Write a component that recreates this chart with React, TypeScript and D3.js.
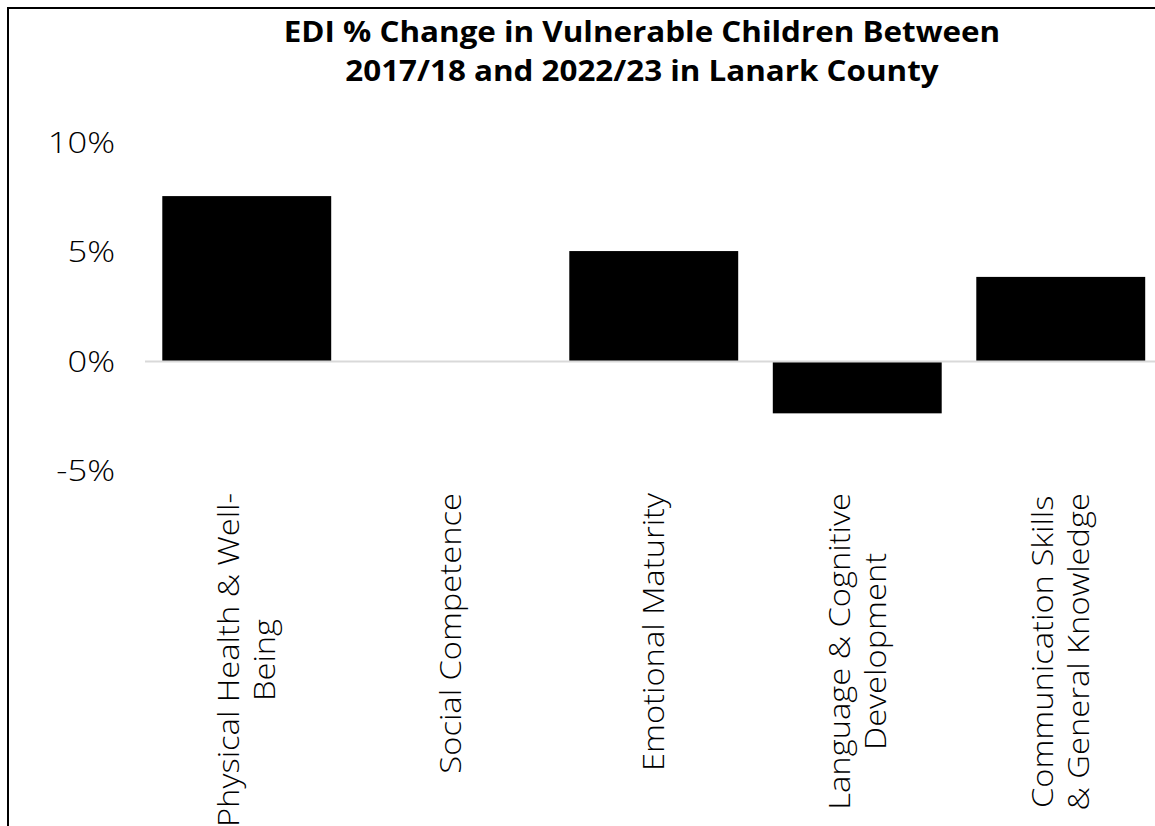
import React, { useEffect, useRef } from "react";
import * as d3 from "d3";

const categories: string[][] = [
  ["Physical Health & Well-", "Being"],
  ["Social Competence"],
  ["Emotional Maturity"],
  ["Language & Cognitive", "Development"],
  ["Communication Skills", "& General Knowledge"],
];
const values: number[] = [7.53, 0, 5.02, -2.39, 3.84];
const yTicks: number[] = [10, 5, 0, -5];
const titleLines: string[] = [
  "EDI % Change in Vulnerable Children Between",
  "2017/18 and 2022/23 in Lanark County",
];

const W = 1155;
const H = 826;
const FONT = "'Open Sans', Lato, sans-serif";

// widen a text element horizontally by factor k (font is narrower than the original)
function stretch(sel: d3.Selection<SVGTextElement, any, any, any>, k: number) {
  sel.each(function () {
    const n = this as SVGTextElement;
    const w = n.getComputedTextLength();
    d3.select(n).attr("textLength", w * k).attr("lengthAdjust", "spacingAndGlyphs");
  });
}

export default function App() {
  const ref = useRef<SVGSVGElement | null>(null);

  useEffect(() => {
    const svg = d3.select(ref.current);
    svg.selectAll("*").remove();

    const x = d3
      .scaleBand<number>()
      .domain(d3.range(categories.length))
      .range([145, 1162.5])
      .paddingInner(0.17)
      .paddingOuter(0.085);
    const y = d3.scaleLinear().domain([-5, 10]).range([470.5, 142]);

    // border
    svg
      .append("rect")
      .attr("x", 8)
      .attr("y", 8)
      .attr("width", W + 20)
      .attr("height", H + 20)
      .attr("fill", "white")
      .attr("stroke", "#000")
      .attr("stroke-width", 2);

    // title
    const title = svg
      .append("g")
      .selectAll("text")
      .data(titleLines)
      .join("text")
      .attr("x", 642)
      .attr("y", (_, i) => 42 + i * 39)
      .attr("text-anchor", "middle")
      .attr("font-family", FONT)
      .attr("font-weight", 700)
      .attr("font-size", 28)
      .attr("fill", "#000")
      .text((d) => d);
    stretch(title as any, 1.12);

    // y tick labels
    const ticks = svg
      .append("g")
      .selectAll("text")
      .data(yTicks)
      .join("text")
      .attr("x", 115)
      .attr("y", (d) => y(d))
      .attr("dy", "0.36em")
      .attr("text-anchor", "end")
      .attr("font-family", FONT)
      .attr("font-weight", 300)
      .attr("font-size", 30)
      .attr("fill", "#000")
      .text((d) => `${d}%`);
    stretch(ticks as any, 1.15);

    // bars
    svg
      .append("g")
      .selectAll("rect")
      .data(values)
      .join("rect")
      .attr("x", (_, i) => x(i)!)
      .attr("width", x.bandwidth())
      .attr("y", (d) => y(Math.max(0, d)))
      .attr("height", (d) => Math.abs(y(d) - y(0)))
      .attr("fill", "#000");

    // zero line
    svg
      .append("line")
      .attr("x1", 145)
      .attr("x2", 1162.5)
      .attr("y1", y(0) + 0.5)
      .attr("y2", y(0) + 0.5)
      .attr("stroke", "#d9d9d9")
      .attr("stroke-width", 2);

    // category labels
    const lh = 36;
    const top = 493;
    const k = 1.09;
    categories.forEach((lines, i) => {
      const cx = x(i)! + x.bandwidth() / 2;
      const g = svg.append("g");
      const texts = g
        .selectAll("text")
        .data(lines)
        .join("text")
        .attr("x", 0)
        .attr("y", (_, j) => (j - (lines.length - 1) / 2) * lh + 10.5)
        .attr("text-anchor", "middle")
        .attr("font-family", FONT)
        .attr("font-weight", 300)
        .attr("font-size", 30)
        .attr("fill", "#000")
        .text((d) => d);
      let maxW = 0;
      texts.each(function () {
        maxW = Math.max(maxW, (this as SVGTextElement).getComputedTextLength());
      });
      stretch(texts as any, k);
      g.attr("transform", `translate(${cx},${top + (maxW * k) / 2}) rotate(-90)`);
    });
  }, []);

  return (
    <svg
      ref={ref}
      width={W}
      height={H}
      style={{ position: "absolute", left: 0, top: 0, display: "block" }}
    />
  );
}
